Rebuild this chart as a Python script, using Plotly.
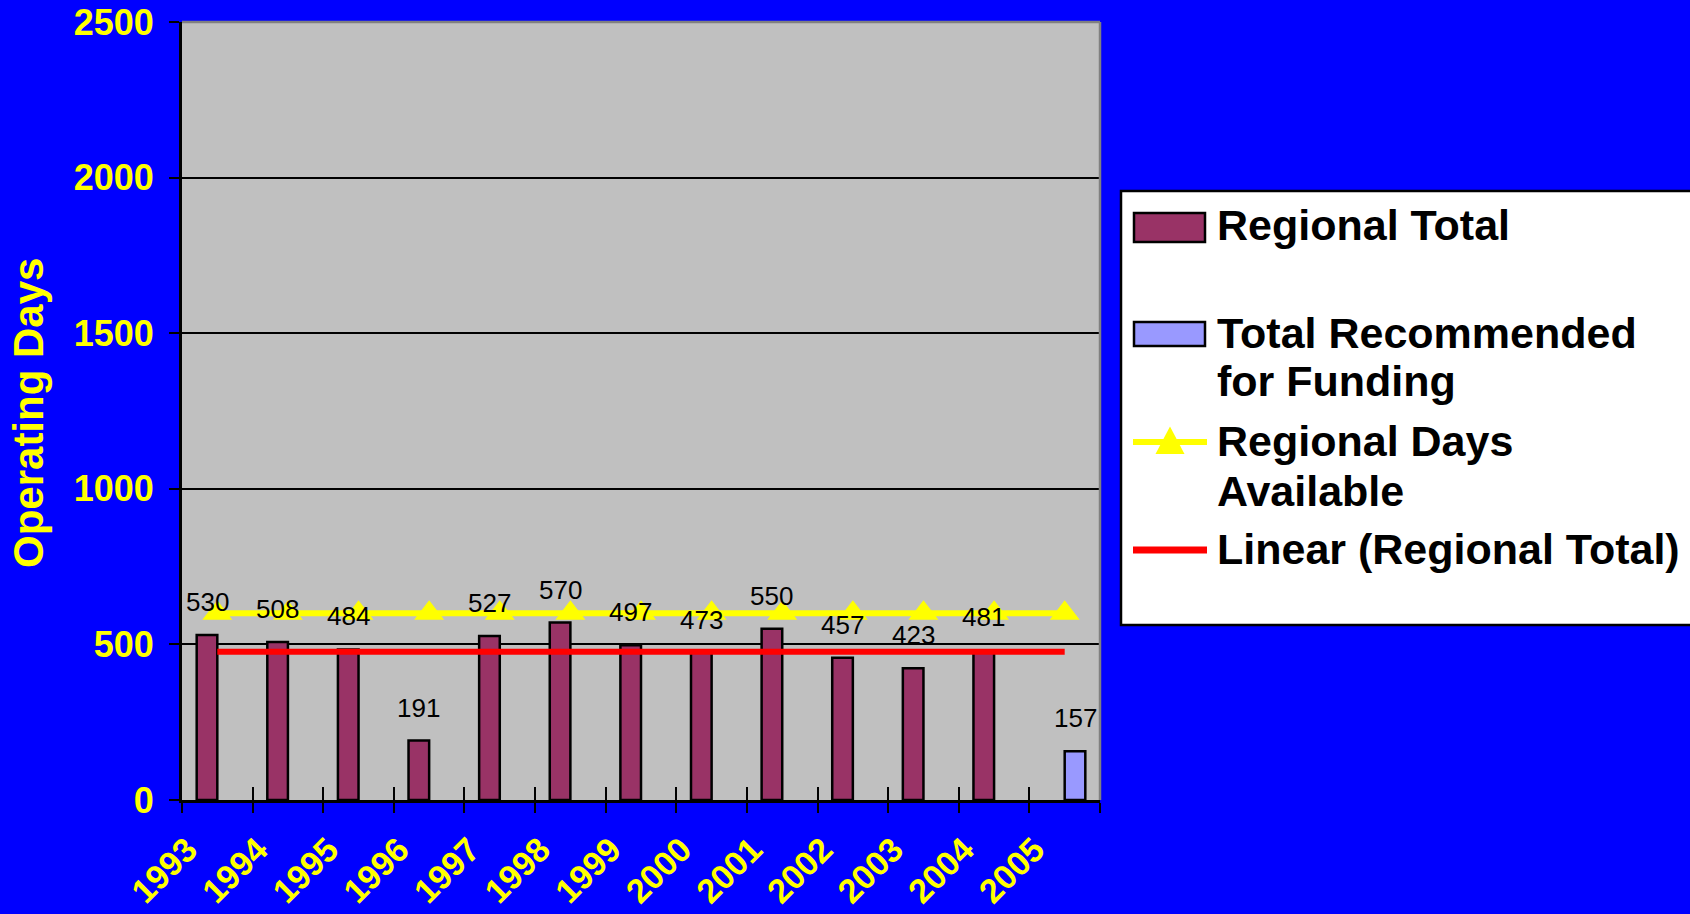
import plotly.graph_objects as go

# ---------------- data ----------------
years = ["1993", "1994", "1995", "1996", "1997", "1998", "1999",
         "2000", "2001", "2002", "2003", "2004", "2005"]
regional_total = [530, 508, 484, 191, 527, 570, 497, 473, 550, 457, 423, 481, None]
total_recommended = [None, None, None, None, None, None, None,
                     None, None, None, None, None, 157]
regional_days_available = [600, 600, 600, 600, 600, 600, 600,
                           600, 600, 600, 600, 600, 600]
trend_years = ["1993", "2005"]
trend_values = [476, 476]

series_names = ["Regional Total", "Total Recommended for Funding",
                "Regional Days Available", "Linear (Regional Total)"]
legend_lines = [["Regional Total"], ["Total Recommended", "for Funding"],
                ["Regional Days", "Available"], ["Linear (Regional Total)"]]
y_ticks = [0, 500, 1000, 1500, 2000, 2500]
y_title = "Operating Days"

# ---------------- style ----------------
FONT = "Liberation Sans, Arial, sans-serif"
BLUE_BG = "#0000FF"
PLOT_BG = "#C0C0C0"
BAR1 = "#993366"
BAR2 = "#9999FF"
YELLOW = "#FFFF00"
RED = "#FF0000"

W, H = 1690, 914
ML, MR, MT, MB = 182, 590, 22, 114
PW = W - ML - MR
PH = H - MT - MB
BARGAP = 0.416
bar_frac = (1 - BARGAP) / 2   # width of one bar in category units


def px_x(px):
    return (px - ML) / PW


def px_y(py):
    return (MT + PH - py) / PH


fig = go.Figure()

fig.add_trace(go.Bar(
    x=years, y=regional_total, name=series_names[0],
    marker=dict(color=BAR1, line=dict(color="black", width=2.5)),
))
fig.add_trace(go.Bar(
    x=years, y=total_recommended, name=series_names[1],
    marker=dict(color=BAR2, line=dict(color="black", width=2.5)),
))
fig.add_trace(go.Scatter(
    x=trend_years, y=trend_values, name=series_names[3], mode="lines",
    line=dict(color=RED, width=6),
))
fig.add_trace(go.Scatter(
    x=years, y=regional_days_available, name=series_names[2],
    mode="lines+markers",
    line=dict(color=YELLOW, width=6),
    marker=dict(symbol="triangle-up", size=26, color=YELLOW),
))
# carrier for the inside tick marks of the category axis (draws nothing)
fig.add_trace(go.Scatter(
    x=years, y=regional_days_available, xaxis="x2", mode="none",
    hoverinfo="skip", showlegend=False,
))

annotations = []
# data labels (category axis -> serial index positions)
for i, v in enumerate(regional_total):
    if v is not None:
        annotations.append(dict(
            x=i - bar_frac / 2, y=v, xref="x", yref="y", text=str(v),
            showarrow=False, xanchor="center", yanchor="bottom", yshift=16,
            font=dict(family=FONT, size=26, color="black")))
for i, v in enumerate(total_recommended):
    if v is not None:
        annotations.append(dict(
            x=i + bar_frac / 2, y=v, xref="x", yref="y", text=str(v),
            showarrow=False, xanchor="center", yanchor="bottom", yshift=16,
            font=dict(family=FONT, size=26, color="black")))

# y axis title
annotations.append(dict(
    x=px_x(28), y=px_y(413), xref="paper", yref="paper", text=y_title,
    textangle=-90, showarrow=False, xanchor="center", yanchor="middle",
    font=dict(family=FONT, size=42, color=YELLOW, weight="bold")))

# ---------------- custom legend ----------------
shapes = []
shapes.append(dict(type="rect", xref="paper", yref="paper",
                   x0=px_x(1121), x1=px_x(1720), y0=px_y(625), y1=px_y(191),
                   fillcolor="white", line=dict(color="black", width=2.5),
                   layer="above"))
shapes.append(dict(type="rect", xref="paper", yref="paper",
                   x0=px_x(1134), x1=px_x(1205), y0=px_y(242), y1=px_y(213),
                   fillcolor=BAR1, line=dict(color="black", width=2.5),
                   layer="above"))
shapes.append(dict(type="rect", xref="paper", yref="paper",
                   x0=px_x(1134), x1=px_x(1205), y0=px_y(346), y1=px_y(322),
                   fillcolor=BAR2, line=dict(color="black", width=2.5),
                   layer="above"))
shapes.append(dict(type="line", xref="paper", yref="paper",
                   x0=px_x(1133), x1=px_x(1207), y0=px_y(442), y1=px_y(442),
                   line=dict(color=YELLOW, width=6), layer="above"))
shapes.append(dict(type="path", xref="paper", yref="paper",
                   path="M {a},{b} L {c},{b} L {d},{e} Z".format(
                       a=px_x(1155.5), b=px_y(454), c=px_x(1184.5),
                       d=px_x(1170), e=px_y(426.5)),
                   fillcolor=YELLOW, line=dict(color=YELLOW, width=0),
                   layer="above"))
shapes.append(dict(type="line", xref="paper", yref="paper",
                   x0=px_x(1133), x1=px_x(1207), y0=px_y(550), y1=px_y(550),
                   line=dict(color=RED, width=7), layer="above"))

legend_centers = [[225.5], [333, 381], [441, 491], [549]]
for lines, centers in zip(legend_lines, legend_centers):
    for txt, cy in zip(lines, centers):
        annotations.append(dict(
            x=px_x(1215), y=px_y(cy), xref="paper", yref="paper", text=txt,
            showarrow=False, xanchor="left", yanchor="middle",
            font=dict(family=FONT, size=43, color="black", weight="bold")))

# gray plot border (top/right)
shapes.append(dict(type="line", xref="paper", yref="paper", x0=0, x1=1,
                   y0=1, y1=1, line=dict(color="#808080", width=2.5),
                   layer="above"))
shapes.append(dict(type="line", xref="paper", yref="paper", x0=1, x1=1,
                   y0=0, y1=1, line=dict(color="#808080", width=2.5),
                   layer="above"))

fig.update_layout(
    width=W, height=H,
    margin=dict(l=ML, r=MR, t=MT, b=MB, pad=0, autoexpand=False),
    paper_bgcolor=BLUE_BG, plot_bgcolor=PLOT_BG,
    barmode="group", bargap=BARGAP, bargroupgap=0,
    showlegend=False,
    annotations=annotations, shapes=shapes,
    font=dict(family=FONT),
    xaxis=dict(
        type="category", categoryorder="array", categoryarray=years,
        range=[-0.5, len(years) - 0.5], autorange=False, automargin=False,
        tickson="boundaries", ticks="outside", ticklen=10, tickwidth=2,
        tickcolor="black", showline=True, linecolor="black", linewidth=3,
        showgrid=False, tickangle=-45,
        ticklabelstandoff=13, ticklabelshift=-30,
        tickfont=dict(family=FONT, size=34, color=YELLOW, weight="bold"),
    ),
    xaxis2=dict(
        type="category", categoryorder="array", categoryarray=years,
        overlaying="x", side="bottom", anchor="y",
        range=[-0.5, len(years) - 0.5], autorange=False, automargin=False,
        tickson="boundaries", ticks="inside", ticklen=13, tickwidth=2,
        tickcolor="black", showline=False, showgrid=False,
        showticklabels=False, zeroline=False,
    ),
    yaxis=dict(
        range=[0, 2500], autorange=False, automargin=False,
        tickvals=y_ticks, ticks="outside", ticklen=10,
        tickwidth=2, tickcolor="black", showline=True, linecolor="black",
        linewidth=3, showgrid=True, gridcolor="black", gridwidth=2,
        zeroline=False, ticklabelstandoff=8,
        tickfont=dict(family=FONT, size=36, color=YELLOW, weight="bold"),
    ),
)

fig.write_html("out.html", post_script="document.body.style.margin='0';",
               config={"displayModeBar": False})
